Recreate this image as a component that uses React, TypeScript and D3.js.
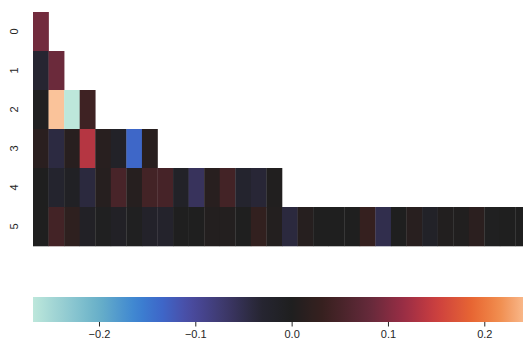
import React, { useEffect, useRef } from "react";
import * as d3 from "d3";

// one row per level, 2^level cells (level 0 has 1)
const rowLabels = ["0", "1", "2", "3", "4", "5"];
const row0 = [0.09];
const row1 = [-0.03, 0.085];
const row2 = [-0.004, 0.2485, -0.2685, 0.04];
const row3 = [0.015, -0.042, 0.012, 0.135, 0.012, -0.015, -0.135, 0.012];
const row4 = [
  0.0, -0.025, -0.01, -0.04, 0.01, 0.05, 0.01, 0.045,
  0.048, -0.015, -0.06, 0.012, 0.045, -0.025, -0.035, 0.003,
];
const row5 = [
  0.0, 0.045, 0.02, -0.012, -0.003, -0.012, -0.003, -0.018,
  -0.022, 0.0, 0.0, 0.005, 0.005, 0.0, 0.025, 0.005,
  -0.04, 0.01, 0.0, 0.0, 0.0, 0.03, -0.05, 0.0,
  0.012, -0.015, 0.004, 0.003, 0.016, -0.004, 0.0, 0.0,
];
const rows = [row0, row1, row2, row3, row4, row5];
const nCols = 32;
const cbTicks = [-0.2, -0.1, 0.0, 0.1, 0.2];

// approximation of seaborn "icefire"
const icefireStops: [number, string][] = [
  [0.0, "#bde7db"],
  [0.128, "#68b0c8"],
  [0.2, "#3c84d2"],
  [0.25, "#3e66c8"],
  [0.3, "#4b4ca4"],
  [0.375, "#3c3767"],
  [0.44, "#262532"],
  [0.5, "#1f1f1f"],
  [0.56, "#37201f"],
  [0.65, "#642a3a"],
  [0.72, "#9c2d45"],
  [0.78, "#cc3f3f"],
  [0.85, "#e86733"],
  [0.9, "#f08b4c"],
  [0.95, "#f9b98b"],
  [1.0, "#fde1c4"],
];

const W = 523;
const H = 341;

export default function App() {
  const ref = useRef<SVGSVGElement>(null);

  useEffect(() => {
    if (!ref.current) return;
    const svg = d3.select(ref.current);
    svg.selectAll("*").remove();

    const all = rows.flat();
    const [vmin, vmax] = d3.extent(all) as [number, number];
    const vrange = Math.max(Math.abs(vmin), Math.abs(vmax));

    const cmap = d3
      .scaleLinear<string>()
      .domain(icefireStops.map((d) => d[0]))
      .range(icefireStops.map((d) => d[1]))
      .interpolate(d3.interpolateRgb)
      .clamp(true);
    const color = (v: number) => cmap((v + vrange) / (2 * vrange));

    const left = 33;
    const right = 531;
    const top = 12;
    const bottom = 246;

    const x = d3.scaleBand<number>().domain(d3.range(nCols)).range([left, right]);
    const y = d3.scaleBand<string>().domain(rowLabels).range([top, bottom]);

    const cells = rows.flatMap((r, ri) =>
      r.map((v, ci) => ({ row: rowLabels[ri], col: ci, v }))
    );

    svg
      .append("g")
      .selectAll("rect")
      .data(cells)
      .enter()
      .append("rect")
      .attr("x", (d) => x(d.col)!)
      .attr("y", (d) => y(d.row)!)
      .attr("width", x.bandwidth() + 0.3)
      .attr("height", y.bandwidth() + 0.3)
      .attr("fill", (d) => color(d.v));

    svg
      .append("g")
      .selectAll("text")
      .data(rowLabels)
      .enter()
      .append("text")
      .attr("transform", (d) => `translate(17.5,${y(d)! + y.bandwidth() / 2}) rotate(-90)`)
      .attr("text-anchor", "middle")
      .attr("fill", "#262626")
      .style("font-family", "'Liberation Sans', Arial, sans-serif")
      .style("font-size", "11px")
      .text((d) => d);

    // colorbar
    const cx = d3.scaleLinear().domain([vmin, vmax]).range([left, right]);
    const cbTop = 297;
    const cbH = 25;
    const grad = svg
      .append("defs")
      .append("linearGradient")
      .attr("id", "cbgrad")
      .attr("x1", "0%")
      .attr("x2", "100%");
    d3.range(0, 1.0001, 0.02).forEach((t) => {
      grad
        .append("stop")
        .attr("offset", `${t * 100}%`)
        .attr("stop-color", color(vmin + t * (vmax - vmin)));
    });
    svg
      .append("rect")
      .attr("x", left)
      .attr("y", cbTop)
      .attr("width", right - left)
      .attr("height", cbH)
      .attr("fill", "url(#cbgrad)");

    const axis = svg
      .append("g")
      .attr("transform", `translate(0,${cbTop + cbH})`)
      .call(
        d3
          .axisBottom(cx)
          .tickValues(cbTicks)
          .tickSize(4.5)
          .tickPadding(4)
          .tickFormat((d) => d3.format(".1f")(d as number).replace("-", "\u2212"))
      );
    axis.select(".domain").remove();
    axis.selectAll("line").attr("stroke", "#262626").attr("stroke-width", 1);
    axis
      .selectAll("text")
      .attr("fill", "#262626")
      .style("font-family", "'Liberation Sans', Arial, sans-serif")
      .style("font-size", "11px");
  }, []);

  return (
    <svg
      ref={ref}
      width={W}
      height={H}
      viewBox={`0 0 ${W} ${H}`}
      style={{ position: "absolute", left: 0, top: 0, overflow: "hidden", background: "#fff" }}
    />
  );
}
